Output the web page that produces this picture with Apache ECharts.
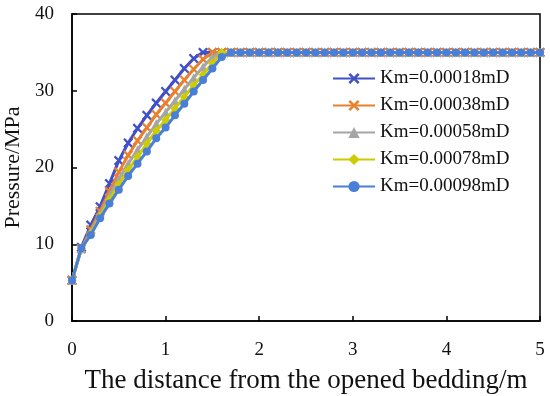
<!DOCTYPE html>
<html>
<head>
<meta charset="utf-8">
<script src="https://cdn.jsdelivr.net/npm/echarts@6/dist/echarts.min.js"></script>
<style>html,body{margin:0;padding:0;background:#fff;}#c{width:550px;height:396px;}</style>
</head>
<body>
<div id="c"></div>
<script>
var xs = [0,0.1,0.2,0.3,0.4,0.5,0.6,0.7,0.8,0.9,
  1.0,1.1,1.2,1.3,1.4,1.5,1.6,1.7,1.8,1.9,
  2.0,2.1,2.2,2.3,2.4,2.5,2.6,2.7,2.8,2.9,
  3.0,3.1,3.2,3.3,3.4,3.5,3.6,3.7,3.8,3.9,
  4.0,4.1,4.2,4.3,4.4,4.5,4.6,4.7,4.8,4.9,
  5.0];
var km018 = [5.3,9.6,12.5,14.9,17.9,20.9,23.2,25.1,26.8,28.4,
  29.9,31.4,32.9,34.2,35,35,35,35,35,35,
  35,35,35,35,35,35,35,35,35,35,
  35,35,35,35,35,35,35,35,35,35,
  35,35,35,35,35,35,35,35,35,35,
  35];
var km038 = [5.3,9.4,11.9,14.3,16.9,19.4,21.6,23.5,25.2,26.9,
  28.4,29.9,31.4,32.8,34.1,35,35,35,35,35,
  35,35,35,35,35,35,35,35,35,35,
  35,35,35,35,35,35,35,35,35,35,
  35,35,35,35,35,35,35,35,35,35,
  35];
var km058 = [5.3,9.4,11.6,13.9,16.3,18.5,20.5,22.3,24.0,25.7,
  27.2,28.7,30.2,31.7,33.1,34.4,35,35,35,35,
  35,35,35,35,35,35,35,35,35,35,
  35,35,35,35,35,35,35,35,35,35,
  35,35,35,35,35,35,35,35,35,35,
  35];
var km078 = [5.3,9.4,11.4,13.6,15.8,17.8,19.7,21.4,23.1,24.8,
  26.2,27.7,29.2,30.7,32.1,33.6,35,35,35,35,
  35,35,35,35,35,35,35,35,35,35,
  35,35,35,35,35,35,35,35,35,35,
  35,35,35,35,35,35,35,35,35,35,
  35];
var km098 = [5.3,9.5,11.2,13.4,15.3,17.1,18.9,20.5,22.1,23.8,
  25.2,26.8,28.3,29.9,31.4,32.9,34.4,35,35,35,
  35,35,35,35,35,35,35,35,35,35,
  35,35,35,35,35,35,35,35,35,35,
  35,35,35,35,35,35,35,35,35,35,
  35];
var names = ['Km=0.00018mD','Km=0.00038mD','Km=0.00058mD','Km=0.00078mD','Km=0.00098mD'];
var seriesValues = [km018, km038, km058, km078, km098];
var colors = ['#4050C8','#E8802E','#A5A5A5','#CCCC00','#4A7FD8'];
var crossPath = 'path://M0,0.16 L0.16,0 L0.5,0.34 L0.84,0 L1,0.16 L0.66,0.5 L1,0.84 L0.84,1 L0.5,0.66 L0.16,1 L0,0.84 L0.34,0.5 Z';
var symbols = [crossPath, crossPath, 'triangle', 'diamond', 'circle'];
var symbolSizes = [10, 10, 9, 9, 8];
var FONT = 'Liberation Serif';

function pairs(v){ var out=[]; for(var i=0;i<xs.length;i++){ out.push([xs[i], v[i]]); } return out; }

var series = names.map(function(n, i){
  return {
    name: n, type: 'line', data: pairs(seriesValues[i]),
    symbol: symbols[i], symbolSize: symbolSizes[i], showSymbol: true,
    lineStyle: {width: 3, color: colors[i]},
    itemStyle: {color: colors[i]},
    z: 2 + i, animation: false
  };
});

var chart = echarts.init(document.getElementById('c'));
chart.setOption({
  animation: false,
  color: colors,
  grid: {left: 72, right: 10, top: 14, bottom: 75, show: true, borderColor: '#000', borderWidth: 1.5, containLabel: false, outerBoundsMode: 'none'},
  legend: {
    orient: 'vertical', left: 332, top: 69, padding: 0,
    itemWidth: 42, itemHeight: 14, itemGap: 8,
    textStyle: {fontFamily: FONT, fontSize: 19, color: '#111'},
    data: names
  },
  xAxis: {
    type: 'value', min: 0, max: 5, interval: 1,
    name: 'The distance from the opened bedding/m', nameLocation: 'middle', nameGap: 46,
    nameTextStyle: {fontFamily: FONT, fontSize: 27, color: '#111'},
    axisLine: {show: true, lineStyle: {color: '#000', width: 1.5}},
    axisTick: {show: true, inside: true, length: 5, lineStyle: {color: '#000', width: 1.5}},
    axisLabel: {fontFamily: FONT, fontSize: 19, color: '#111', margin: 20},
    splitLine: {show: false}
  },
  yAxis: {
    type: 'value', min: 0, max: 40, interval: 10,
    name: 'Pressure/MPa', nameLocation: 'middle', nameGap: 48,
    nameTextStyle: {fontFamily: FONT, fontSize: 22, color: '#111'},
    axisLine: {show: true, lineStyle: {color: '#000', width: 1.5}},
    axisTick: {show: true, inside: true, length: 5, lineStyle: {color: '#000', width: 1.5}},
    axisLabel: {fontFamily: FONT, fontSize: 19, color: '#111', margin: 18},
    splitLine: {show: false}
  },
  series: series
});
</script>
</body>
</html>
